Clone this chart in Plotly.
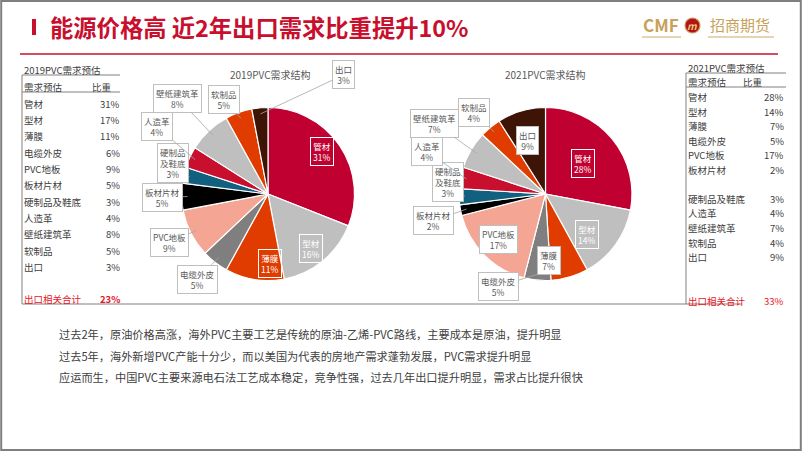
import math
import plotly.graph_objects as go

W, H = 802, 451
FONT = "Noto Sans CJK SC"

# ---------------- data ----------------
title_text = "能源价格高 近2年出口需求比重提升10%"
categories = ["管材", "型材", "薄膜", "电缆外皮", "PVC地板", "板材片材",
              "硬制品及鞋底", "人造革", "壁纸建筑革", "软制品", "出口"]
pie_labels_short = ["管材", "型材", "薄膜", "电缆外皮", "PVC地板", "板材片材",
                    "硬制品<br>及鞋底", "人造革", "壁纸建筑革", "软制品", "出口"]
pie2019_values = [31, 16, 11, 5, 9, 5, 3, 4, 8, 5, 3]
pie2021_values = [28, 14, 7, 5, 17, 2, 3, 4, 7, 4, 9]
table2019_values = [31, 17, 11, 6, 9, 5, 3, 4, 8, 5, 3]
table2021_values = [28, 14, 7, 5, 17, 2, 3, 4, 7, 4, 9]
total_label = "出口相关合计"
total2019 = 23
total2021 = 33
pie2019_title = "2019PVC需求结构"
pie2021_title = "2021PVC需求结构"
table2019_title = "2019PVC需求预估"
table2021_title = "2021PVC需求预估"
table_header = ["需求预估", "比重"]
bullets = [
    "过去2年，原油价格高涨，海外PVC主要工艺是传统的原油-乙烯-PVC路线，主要成本是原油，提升明显",
    "过去5年，海外新增PVC产能十分少，而以美国为代表的房地产需求蓬勃发展，PVC需求提升明显",
    "应运而生，中国PVC主要来源电石法工艺成本稳定，竞争性强，过去几年出口提升明显，需求占比提升很快",
]

# ---------------- style ----------------
slice_colors = ["#C00030", "#BFBFBF", "#E03C00", "#7F7F7F", "#F4A593", "#000000",
                "#12607F", "#C8102E", "#BFBFBF", "#E03C00", "#3E1407"]
# label placement (radius factor, angle shift in deg, style)
lab2019 = [(0.79, -4, "w"), (0.80, 1, "w"), (0.81, -1, "w"), (1.28, 2, "b"),
           (1.27, 1, "b"), (1.22, 0, "b"), (1.16, 5.5, "b"), (1.50, 6, "b"),
           (1.52, 0, "b"), (1.20, -5, "b"), (1.63, 37.8, "b")]
lab2021 = [(0.77, -2.4, "w"), (0.78, 1, "w"), (0.79, 3, "b"), (1.20, 21.6, "b"),
           (0.75, 1, "b"), (1.33, -2.6, "b"), (1.14, 9, "b"), (1.46, 9, "b"),
           (1.52, 2, "b"), (1.25, -1.7, "b"), (0.81, 1, "b")]
R = 86.5
c2019 = (268, 194)
c2021 = (545.5, 194)

def px(x):
    return x / W

def py(y):
    return 1 - y / H

def domain(c):
    cx, cy = c
    return dict(x=[px(cx - R), px(cx + R)], y=[py(cy + R), py(cy - R)])

fig = go.Figure()
for vals, c in [(pie2019_values, c2019), (pie2021_values, c2021)]:
    fig.add_trace(go.Pie(
        labels=categories, values=vals, sort=False, direction="clockwise",
        rotation=0, domain=domain(c), textinfo="none", hoverinfo="label+value",
        marker=dict(colors=slice_colors, line=dict(color="white", width=1.2)),
        automargin=False,
    ))

anns = []
shapes = []

def add_text(x, y, text, size=9.5, color="#404040", xanchor="left", weight="normal", yanchor="middle"):
    anns.append(dict(x=px(x), y=py(y), xref="paper", yref="paper", text=text,
                     showarrow=False, xanchor=xanchor, yanchor=yanchor,
                     font=dict(family=FONT, size=size, color=color, weight=weight)))

def add_line(x0, y0, x1, y1, color="#808080", width=1):
    shapes.append(dict(type="line", xref="paper", yref="paper",
                       x0=px(x0), y0=py(y0), x1=px(x1), y1=py(y1),
                       line=dict(color=color, width=width)))

def pie_callouts(c, values, specs):
    cx, cy = c
    total = sum(values)
    cum = 0
    for v, name, (k, dth, st) in zip(values, pie_labels_short, specs):
        mid = (cum + v / 2) / total * 360
        cum += v
        th = math.radians(mid + dth)
        lx = cx + k * R * math.sin(th)
        ly = cy - k * R * math.cos(th)
        text = f"{name}<br>{v}%"
        if st == "w":
            style = dict(font=dict(family=FONT, size=8.5, color="white"),
                         bgcolor="rgba(0,0,0,0)", bordercolor="white")
        else:
            style = dict(font=dict(family=FONT, size=8.5, color="#595959"),
                         bgcolor="white", bordercolor="#BFBFBF")
        base = dict(xref="paper", yref="paper", text=text, borderwidth=1,
                    borderpad=2, **style)
        if k < 1:
            anns.append(dict(x=px(lx), y=py(ly), showarrow=False, **base))
        else:
            tm = math.radians(mid)
            tx = cx + 0.93 * R * math.sin(tm)
            ty = cy - 0.93 * R * math.cos(tm)
            anns.append(dict(x=px(tx), y=py(ty), ax=lx - tx, ay=ly - ty,
                             showarrow=True, arrowhead=0, arrowwidth=0.8,
                             arrowcolor="#A6A6A6", **base))

pie_callouts(c2019, pie2019_values, lab2019)
pie_callouts(c2021, pie2021_values, lab2021)

# pie titles
add_text(270, 75, pie2019_title, size=10, color="#595959", xanchor="center")
add_text(545, 75, pie2021_title, size=10, color="#595959", xanchor="center")

# ---------------- header ----------------
shapes.append(dict(type="rect", xref="paper", yref="paper", x0=px(32), x1=px(36),
                   y0=py(35), y1=py(19), fillcolor="#C8102E", line=dict(width=0)))
add_text(48, 27, title_text, size=23.3, color="#C8102E", weight="bold")
add_line(20, 54, 778, 54, color="#C8102E", width=1.5)

# logo
GOLD = "#C8A15A"
add_text(641, 25, "CMF", size=17, color=GOLD, weight="bold")
shapes.append(dict(type="circle", xref="paper", yref="paper",
                   x0=px(685), x1=px(700), y0=py(33), y1=py(18),
                   fillcolor="#B5121B", line=dict(color=GOLD, width=1.2)))
add_text(692.5, 25.5, "<i>m</i>", size=10, color="#E8C870", xanchor="center", weight="bold")
add_text(708, 25, "招商期货", size=15, color=GOLD)
add_line(642, 37, 681, 37, color="#DCC79A", width=1.5)
add_line(708, 37, 774, 37, color="#DCC79A", width=1.5)

# ---------------- left table ----------------
add_text(22, 70, table2019_title, size=9.5)
add_line(22, 75, 120, 75)
add_text(22, 87, table_header[0], size=9.5)
add_text(90, 87, table_header[1], size=9.5)
add_line(22, 92, 120, 92)
for i, (cat, v) in enumerate(zip(categories, table2019_values)):
    y = 103.5 + i * 16.35
    add_text(22, y, cat, size=9.5)
    add_text(122, y, f"{v}%", size=9.5, xanchor="right")
add_text(22, 299, total_label, size=9.5, color="#E8141E")
add_text(122, 299, f"{total2019}%", size=9.5, color="#E8141E", xanchor="right", weight="bold")
add_line(22, 75, 22, 304)

# ---------------- right table ----------------
add_text(686, 68, table2021_title, size=9.5)
add_line(686, 73, 786, 73)
add_text(686, 82, table_header[0], size=9.5)
add_text(741, 82, table_header[1], size=9.5)
add_line(686, 87, 786, 87)
for i, (cat, v) in enumerate(zip(categories, table2021_values)):
    row = i if i < 6 else i + 1
    y = 97 + row * 14.55
    add_text(686, y, cat, size=9.5)
    add_text(786, y, f"{v}%", size=9.5, xanchor="right")
add_text(686, 301, total_label, size=9.5, color="#E8141E")
add_text(786, 301, f"{total2021}%", size=9.5, color="#E8141E", xanchor="right")
add_line(686, 73, 686, 304)

# bottom rule of table block
add_line(22, 304, 742, 304, color="#808080", width=1.2)

# ---------------- bullets ----------------
for i, t in enumerate(bullets):
    add_text(57, 334 + i * 21.5, t, size=11.2, color="#404040")

# outer frame
shapes.append(dict(type="rect", xref="paper", yref="paper", x0=0.0015, x1=0.9985,
                   y0=0.002, y1=0.998, line=dict(color="#7F7F7F", width=2)))

fig.update_layout(
    width=W, height=H, margin=dict(l=0, r=0, t=0, b=0),
    paper_bgcolor="white", plot_bgcolor="white", showlegend=False,
    annotations=anns, shapes=shapes,
    font=dict(family=FONT),
)

fig.write_html("out.html", config={"displayModeBar": False},
               post_script="document.body.style.margin='0';document.body.style.overflow='hidden';")
